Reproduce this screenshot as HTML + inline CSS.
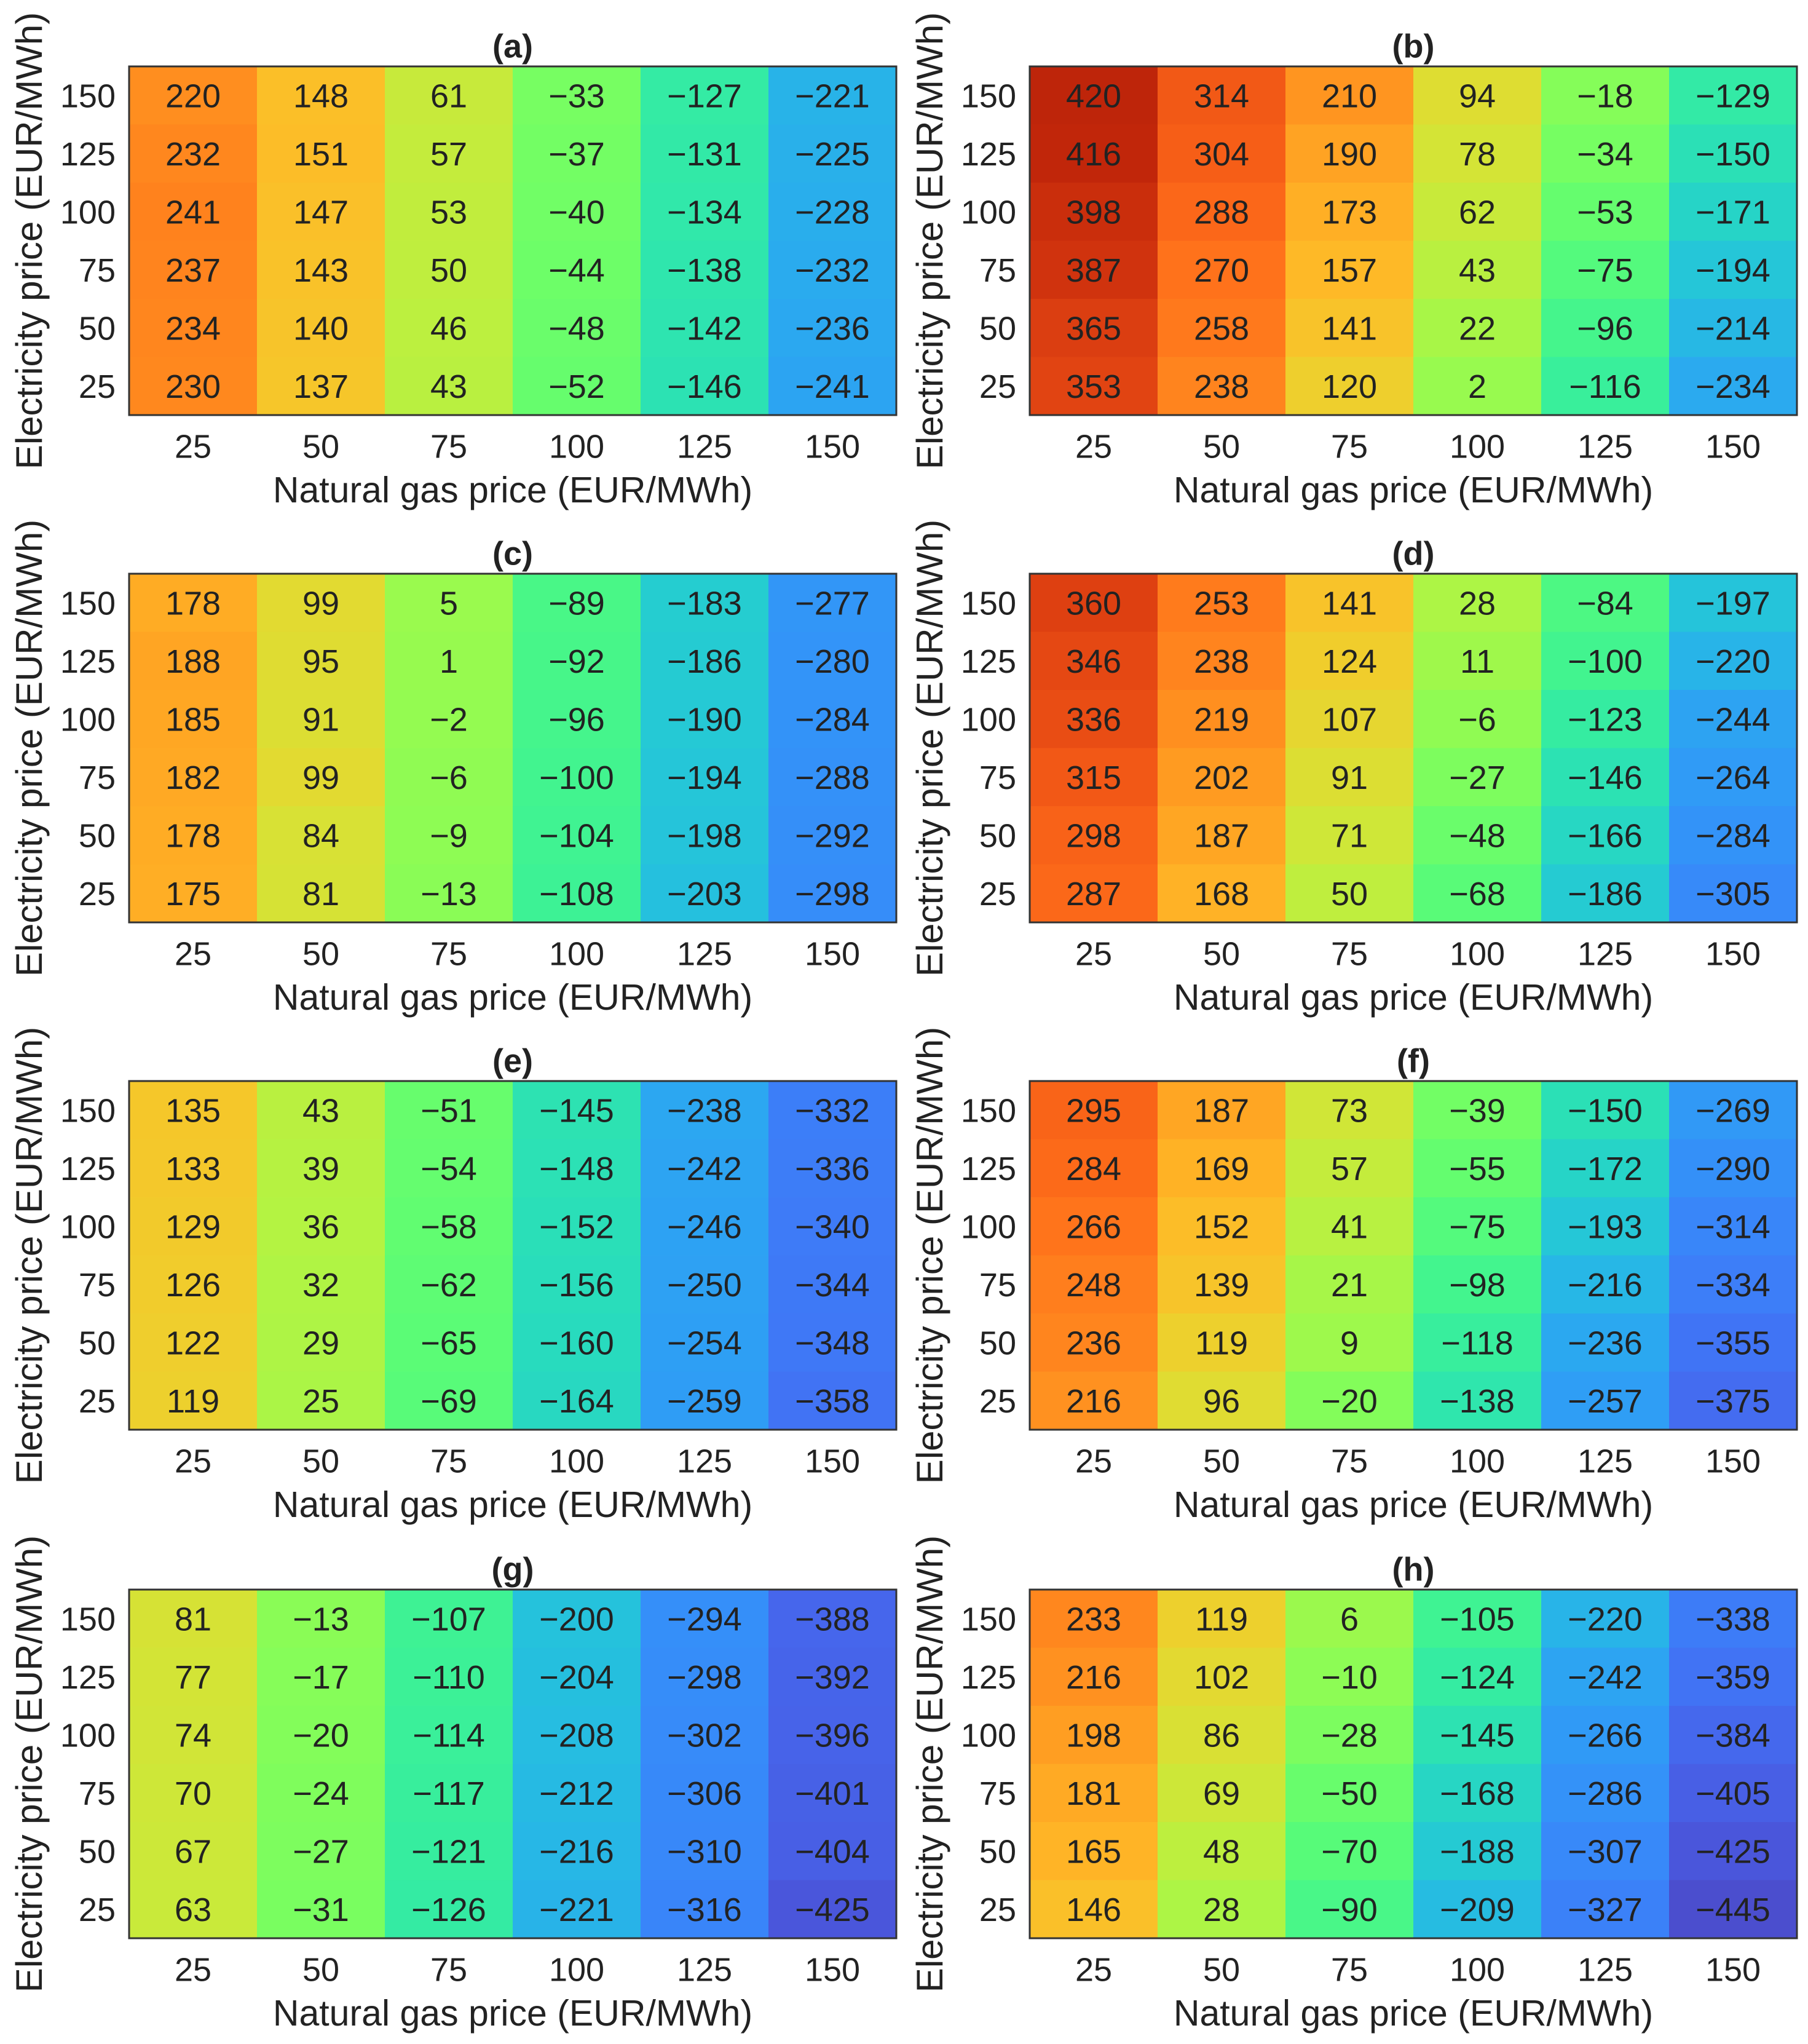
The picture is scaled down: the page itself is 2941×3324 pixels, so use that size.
<!DOCTYPE html>
<html><head><meta charset="utf-8">
<style>
html,body{margin:0;padding:0;background:#fff;}
svg{display:block;}
text{font-family:"Liberation Sans",Arial,sans-serif;fill:#222;}
</style></head>
<body>
<svg id="fig" width="2941" height="3324" viewBox="0 0 2941 3324"></svg>
<script>
const gasPrices = [25, 50, 75, 100, 125, 150];
const elecPrices = [150, 125, 100, 75, 50, 25];
const panelLabels = ['(a)','(b)','(c)','(d)','(e)','(f)','(g)','(h)'];
// rows: electricity 150 -> 25 ; columns: gas 25 -> 150
const valuesA = [[220,148,61,-33,-127,-221],[232,151,57,-37,-131,-225],[241,147,53,-40,-134,-228],[237,143,50,-44,-138,-232],[234,140,46,-48,-142,-236],[230,137,43,-52,-146,-241]];
const valuesB = [[420,314,210,94,-18,-129],[416,304,190,78,-34,-150],[398,288,173,62,-53,-171],[387,270,157,43,-75,-194],[365,258,141,22,-96,-214],[353,238,120,2,-116,-234]];
const valuesC = [[178,99,5,-89,-183,-277],[188,95,1,-92,-186,-280],[185,91,-2,-96,-190,-284],[182,99,-6,-100,-194,-288],[178,84,-9,-104,-198,-292],[175,81,-13,-108,-203,-298]];
const valuesD = [[360,253,141,28,-84,-197],[346,238,124,11,-100,-220],[336,219,107,-6,-123,-244],[315,202,91,-27,-146,-264],[298,187,71,-48,-166,-284],[287,168,50,-68,-186,-305]];
const valuesE = [[135,43,-51,-145,-238,-332],[133,39,-54,-148,-242,-336],[129,36,-58,-152,-246,-340],[126,32,-62,-156,-250,-344],[122,29,-65,-160,-254,-348],[119,25,-69,-164,-259,-358]];
const valuesF = [[295,187,73,-39,-150,-269],[284,169,57,-55,-172,-290],[266,152,41,-75,-193,-314],[248,139,21,-98,-216,-334],[236,119,9,-118,-236,-355],[216,96,-20,-138,-257,-375]];
const valuesG = [[81,-13,-107,-200,-294,-388],[77,-17,-110,-204,-298,-392],[74,-20,-114,-208,-302,-396],[70,-24,-117,-212,-306,-401],[67,-27,-121,-216,-310,-404],[63,-31,-126,-221,-316,-425]];
const valuesH = [[233,119,6,-105,-220,-338],[216,102,-10,-124,-242,-359],[198,86,-28,-145,-266,-384],[181,69,-50,-168,-286,-405],[165,48,-70,-188,-307,-425],[146,28,-90,-209,-327,-445]];
const allValues = [valuesA,valuesB,valuesC,valuesD,valuesE,valuesF,valuesG,valuesH];
const colorStops = [-445, -241, 0, 220, 420];
const colorPos = [0.085, 0.21, 0.5, 0.73, 0.89];

const NS='http://www.w3.org/2000/svg';
const svg=document.getElementById('fig');
function turbo(t){
  t=Math.max(0,Math.min(1,t));
  const r=0.13572138+t*(4.61539260+t*(-42.66032258+t*(132.13108234+t*(-152.94239396+t*59.28637943))));
  const g=0.09140261+t*(2.19418839+t*(4.84296658+t*(-14.18503333+t*(4.27729857+t*2.82956604))));
  const b=0.10667330+t*(12.64194608+t*(-60.58204836+t*(110.36276771+t*(-89.90310912+t*27.34824973))));
  const c=x=>Math.round(Math.max(0,Math.min(1,x))*255);
  return `rgb(${c(r)},${c(g)},${c(b)})`;
}
function colorScale(v){
  let i=0;
  while(i<colorStops.length-2 && v>colorStops[i+1]) i++;
  const f=(v-colorStops[i])/(colorStops[i+1]-colorStops[i]);
  return turbo(colorPos[i]+f*(colorPos[i+1]-colorPos[i]));
}
function el(tag,attrs,parent){const e=document.createElementNS(NS,tag);for(const k in attrs)e.setAttribute(k,attrs[k]);(parent||svg).appendChild(e);return e;}

const colX=[210,1675], rowY=[108,933,1758,2585];
const PW=1248, PH=567, FS=54, LFS=59;
for(let p=0;p<8;p++){
  const x0=colX[p%2], y0=rowY[Math.floor(p/2)];
  const vals=allValues[p];
  const g=el('g',{});
  
  
  const nc=gasPrices.length, nr=elecPrices.length;
  const cw=PW/nc, ch=PH/nr;
  const xPos=i=>x0+i*cw, yPos=j=>y0+j*ch;
  for(let j=0;j<nr;j++)for(let i=0;i<nc;i++){
    const v=vals[j][i];
    const r=el('rect',{x:xPos(i),y:yPos(j),width:cw+0.5,height:ch+0.5,fill:colorScale(v)},g);
    
    
    const t=el('text',{x:xPos(i)+cw/2,y:yPos(j)+ch/2+FS*0.36,'font-size':FS,'text-anchor':'middle'},g);
    
    
    t.textContent=String(v).replace('-','\u2212');
  }
  const fr=el('rect',{x:x0,y:y0,width:PW,height:PH,fill:'none',stroke:'#333','stroke-width':3},g);
  
  
  for(let j=0;j<nr;j++){
    const t=el('text',{x:x0-22,y:yPos(j)+ch/2+FS*0.36,'font-size':FS,'text-anchor':'end'},g);
    
    
    t.textContent=elecPrices[j];
  }
  for(let i=0;i<nc;i++){
    const t=el('text',{x:xPos(i)+cw/2,y:y0+PH+50+FS*0.36,'font-size':FS,'text-anchor':'middle'},g);
    
    
    t.textContent=gasPrices[i];
  }
  const xl=el('text',{x:x0+PW/2,y:y0+PH+121+LFS*0.36,'font-size':LFS,'text-anchor':'middle'},g);
  
  
  xl.textContent='Natural gas price (EUR/MWh)';
  const yx=x0-142, yy=y0+PH/2;
  const yl=el('text',{x:yx,y:yy,'font-size':LFS+1,'text-anchor':'middle',transform:`rotate(-90 ${yx} ${yy})`},g);
  
  
  yl.textContent='Electricity price (EUR/MWh)';
  const tt=el('text',{x:x0+PW/2,y:y0-34+FS*0.36,'font-size':FS,'font-weight':'bold','text-anchor':'middle'},g);
  
  
  tt.textContent=panelLabels[p];
}
</script>
</body></html>
